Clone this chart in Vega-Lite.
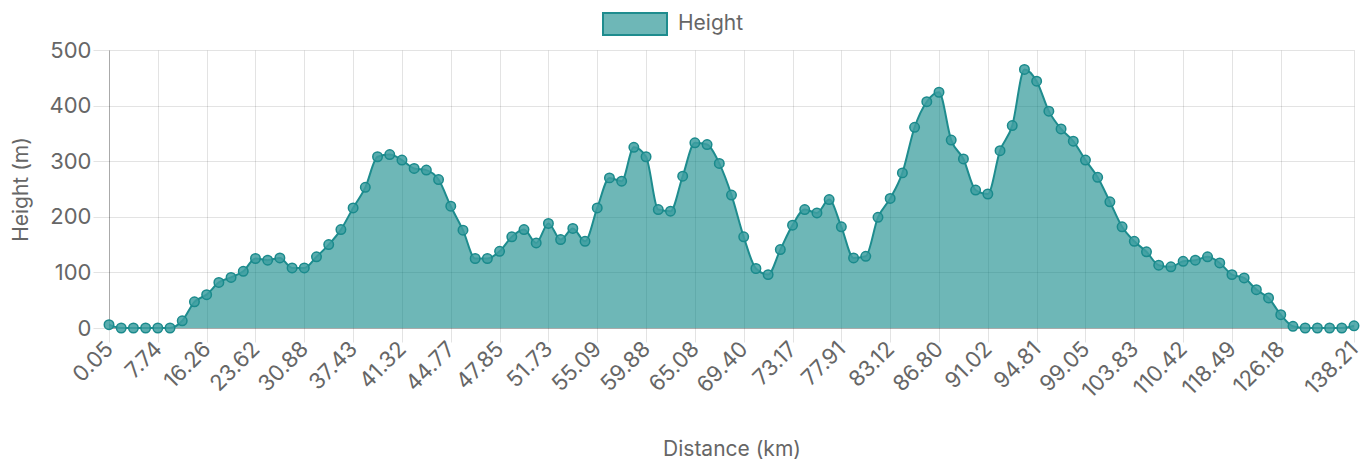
{
  "$schema": "https://vega.github.io/schema/vega-lite/v6.json",
  "autosize": {"type": "none"},
  "width": 1245,
  "height": 278,
  "padding": {"left": 109, "top": 50, "right": 18, "bottom": 136},
  "background": "white",
  "config": {
    "view": {"stroke": null},
    "font": "Inter",
    "axis": {"labelFont": "Inter", "titleFont": "Inter", "labelColor": "#666", "titleColor": "#666", "titleFontWeight": "normal"}
  },
  "data": {"values": [
    {"km": "0.05", "h": 6}, {"km": "1.90", "h": 0}, {"km": "3.85", "h": 0}, {"km": "5.80", "h": 0},
    {"km": "7.74", "h": 0}, {"km": "9.90", "h": 0}, {"km": "12.00", "h": 13}, {"km": "14.10", "h": 47},
    {"km": "16.26", "h": 60}, {"km": "18.10", "h": 82}, {"km": "19.95", "h": 91}, {"km": "21.80", "h": 102},
    {"km": "23.62", "h": 125}, {"km": "25.40", "h": 122}, {"km": "27.20", "h": 126}, {"km": "29.05", "h": 108},
    {"km": "30.88", "h": 108}, {"km": "32.50", "h": 128}, {"km": "34.15", "h": 150}, {"km": "35.80", "h": 177},
    {"km": "37.43", "h": 216}, {"km": "38.40", "h": 253}, {"km": "39.40", "h": 308}, {"km": "40.35", "h": 312},
    {"km": "41.32", "h": 302}, {"km": "42.20", "h": 287}, {"km": "43.05", "h": 284}, {"km": "43.90", "h": 267},
    {"km": "44.77", "h": 219}, {"km": "45.55", "h": 176}, {"km": "46.30", "h": 125}, {"km": "47.10", "h": 125},
    {"km": "47.85", "h": 138}, {"km": "48.80", "h": 164}, {"km": "49.80", "h": 177}, {"km": "50.75", "h": 153},
    {"km": "51.73", "h": 188}, {"km": "52.55", "h": 159}, {"km": "53.40", "h": 179}, {"km": "54.25", "h": 156},
    {"km": "55.09", "h": 216}, {"km": "56.30", "h": 270}, {"km": "57.50", "h": 264}, {"km": "58.70", "h": 325},
    {"km": "59.88", "h": 308}, {"km": "61.20", "h": 213}, {"km": "62.50", "h": 210}, {"km": "63.80", "h": 273},
    {"km": "65.08", "h": 333}, {"km": "66.15", "h": 330}, {"km": "67.25", "h": 296}, {"km": "68.30", "h": 239},
    {"km": "69.40", "h": 164}, {"km": "70.35", "h": 107}, {"km": "71.30", "h": 96}, {"km": "72.25", "h": 141},
    {"km": "73.17", "h": 185}, {"km": "74.35", "h": 213}, {"km": "75.55", "h": 207}, {"km": "76.70", "h": 231},
    {"km": "77.91", "h": 182}, {"km": "79.20", "h": 126}, {"km": "80.50", "h": 129}, {"km": "81.80", "h": 199},
    {"km": "83.12", "h": 233}, {"km": "84.05", "h": 279}, {"km": "84.95", "h": 361}, {"km": "85.90", "h": 407},
    {"km": "86.80", "h": 424}, {"km": "87.85", "h": 338}, {"km": "88.90", "h": 304}, {"km": "89.95", "h": 248},
    {"km": "91.02", "h": 241}, {"km": "91.95", "h": 319}, {"km": "92.90", "h": 364}, {"km": "93.85", "h": 465},
    {"km": "94.81", "h": 444}, {"km": "95.85", "h": 390}, {"km": "96.90", "h": 358}, {"km": "98.00", "h": 336},
    {"km": "99.05", "h": 302}, {"km": "100.25", "h": 271}, {"km": "101.45", "h": 227}, {"km": "102.65", "h": 182},
    {"km": "103.83", "h": 156}, {"km": "105.50", "h": 137}, {"km": "107.10", "h": 113}, {"km": "108.75", "h": 110},
    {"km": "110.42", "h": 120}, {"km": "112.45", "h": 122}, {"km": "114.45", "h": 128}, {"km": "116.50", "h": 117},
    {"km": "118.49", "h": 96}, {"km": "120.40", "h": 90}, {"km": "122.30", "h": 69}, {"km": "124.25", "h": 54},
    {"km": "126.18", "h": 24}, {"km": "128.20", "h": 3}, {"km": "130.20", "h": 0}, {"km": "132.20", "h": 0},
    {"km": "134.20", "h": 0}, {"km": "136.20", "h": 0}, {"km": "138.21", "h": 4}
  ]},
  "encoding": {
    "x": {
      "field": "km", "type": "ordinal", "sort": null,
      "scale": {"type": "point", "padding": 0},
      "axis": {
        "values": ["0.05","7.74","16.26","23.62","30.88","37.43","41.32","44.77","47.85","51.73","55.09","59.88","65.08","69.40","73.17","77.91","83.12","86.80","91.02","94.81","99.05","103.83","110.42","118.49","126.18","138.21"],
        "title": "Distance (km)",
        "titleFontSize": 21,
        "titleBaseline": "alphabetic",
        "titleY": 127,
        "labelAngle": -45,
        "labelAlign": "right",
        "labelBaseline": "middle",
        "labelFontSize": 22,
        "labelPadding": 3,
        "labelOverlap": false,
        "labelBound": false,
        "labelFlush": false,
        "grid": true,
        "gridColor": "rgba(0,0,0,0.11)",
        "tickColor": "rgba(0,0,0,0.11)",
        "tickSize": 14,
        "domainColor": "rgba(0,0,0,0.25)"
      }
    },
    "y": {
      "field": "h", "type": "quantitative",
      "scale": {"domain": [0, 500], "nice": false},
      "axis": {
        "values": [0, 100, 200, 300, 400, 500],
        "title": "Height (m)",
        "titleFontSize": 21,
        "titleBaseline": "alphabetic",
        "titleX": -82,
        "labelFontSize": 22,
        "labelPadding": 2,
        "grid": true,
        "gridColor": "rgba(0,0,0,0.11)",
        "tickColor": "rgba(0,0,0,0.11)",
        "tickSize": 16,
        "domainColor": "rgba(0,0,0,0.25)"
      }
    }
  },
  "layer": [
    {
      "mark": {"type": "area", "interpolate": "monotone", "opacity": 1},
      "encoding": {
        "color": {
          "datum": "Height",
          "scale": {"range": ["rgba(0,128,128,0.57)"]},
          "legend": {
            "title": null,
            "orient": "none",
            "legendX": 493,
            "legendY": -59,
            "padding": 0,
            "symbolType": "M-1,-0.344H1V0.344H-1Z",
            "symbolSize": 4096,
            "symbolStrokeColor": "#1e8c8e",
            "symbolStrokeWidth": 2,
            "symbolOpacity": 1,
            "labelFont": "Inter",
            "labelFontSize": 21,
            "labelColor": "#666",
            "labelOffset": 10
          }
        }
      }
    },
    {
      "mark": {"type": "line", "interpolate": "monotone", "stroke": "#1e8c8e", "strokeWidth": 2}
    },
    {
      "mark": {"type": "point", "shape": "circle", "filled": true, "fill": "#3e9fa1", "fillOpacity": 0.85, "stroke": "#1a8a8c", "strokeWidth": 1.5, "size": 90, "opacity": 1}
    }
  ]
}
